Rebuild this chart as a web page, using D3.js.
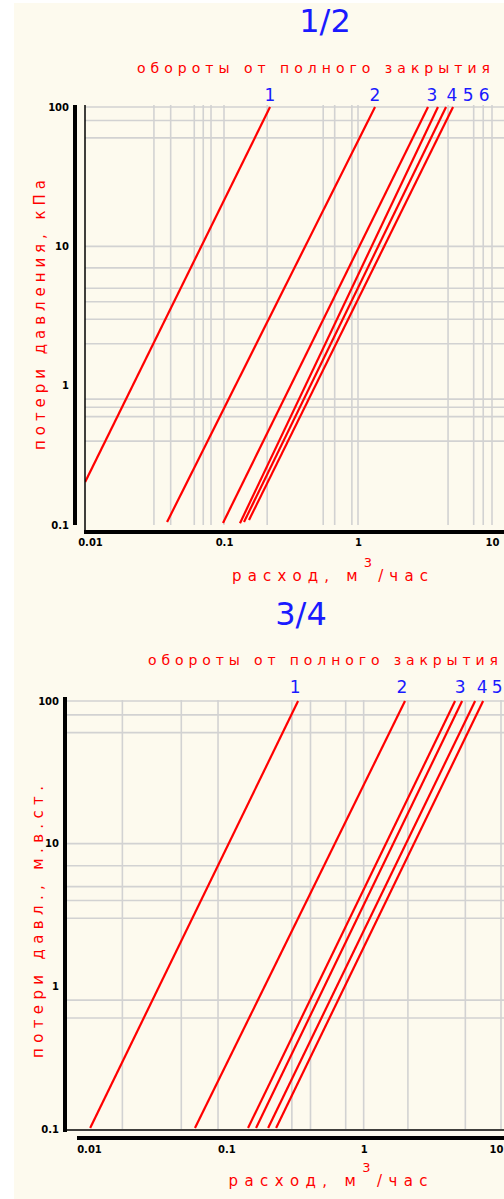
<!DOCTYPE html>
<html>
<head>
<meta charset="utf-8">
<script src="https://cdn.jsdelivr.net/npm/d3@7"></script>
<style>
body { margin: 0; background: #fff; overflow: hidden; }
svg { display: block; }
</style>
</head>
<body>
<script>
;(() => {
    // data
    var titles = ['1/2', '3/4'];
    var subtitle = 'обороты от полного закрытия';
    var xTitle = ['расход, м', '3', '/час'];
    var yTitles = ['потери давления, кПа', 'потери давл., м.в.ст.'];
    var curveNames1 = ['1', '2', '3', '4', '5', '6'],
        curveNames2 = ['1', '2', '3', '4', '5'];

    var xTicks = [0.01, 0.1, 1, 10],
        xTickText = ['0.01', '0.1', '1', '10'];
    var yTicks = [0.1, 1, 10, 100],
        yTickText = ['0.1', '1', '10', '100'];

    // grid lines (m3/h and kPa)
    var gridX1 = [0.03, 0.04, 0.06, 0.07, 0.08, 0.1, 0.21, 0.55, 0.67, 0.9, 1, 4.7, 7.3, 8.6, 10];
    var gridY1 = [100, 80, 60, 10, 7, 5, 4, 3, 2, 0.8, 0.7, 0.6, 0.4];
    var gridX2 = [0.0175, 0.047, 0.087, 0.3, 0.41, 0.74, 1, 2.1, 5.5, 10];
    var gridY2 = [100, 80, 60, 10, 7, 5, 4, 3, 0.8, 0.6];

    // each curve: [flow, loss] at its lower and upper end
    var curves1 = [
        [[0.0092, 0.2035], [0.2205, 100]],
        [[0.0376, 0.105], [1.34, 100]],
        [[0.0983, 0.1034], [3.33, 100]],
        [[0.1316, 0.103], [3.95, 100]],
        [[0.141, 0.105], [4.54, 100]],
        [[0.1537, 0.1086], [5.12, 100]]
    ];
    var curves2 = [
        [[0.0102, 0.1016], [0.333, 100]],
        [[0.0591, 0.1016], [2.0, 100]],
        [[0.1439, 0.1016], [4.63, 100]],
        [[0.1646, 0.1016], [5.21, 100]],
        [[0.2015, 0.1016], [6.48, 100]],
        [[0.2304, 0.1016], [7.41, 100]]
    ];

    var width = 504, height = 1199;

    var svg = d3.select('body')
        .append('svg')
        .attr('width', width)
        .attr('height', height);

    svg.append('rect')
        .attr('x', 14).attr('y', 3)
        .attr('width', width - 14).attr('height', height - 3)
        .attr('fill', '#fdfaee');

    var charts = [
        {
            id: 0, curves: curves1, names: curveNames1, gridX: gridX1, gridY: gridY1,
            x: [90, 492], y: [525, 107], plot: { l: 85, t: 105, b: 525 },
            title: { x: 325, y: 32 }, sub: { x: 137, y: 73, w: 353 },
            xt: { x: 330, y: 581, w: 196 }, yt: { x: 45, y: 315, w: 270 },
            labelDx: [0, 0, 4, 14, 22, 31], labelY: 101,
            thickY: { x: 75, y1: 105, y2: 525 }, thickX: { y: 532, x1: 84 },
            border: { x: 85, y1: 105, y2: 534 }, tickY: 546
        },
        {
            id: 1, curves: curves2, names: curveNames2, gridX: gridX2, gridY: gridY2,
            x: [89, 501], y: [1129, 701], plot: { l: 66, t: 700, b: 1129 },
            title: { x: 301, y: 625 }, sub: { x: 148, y: 665, w: 350 },
            xt: { x: 328, y: 1186, w: 199 }, yt: { x: 43, y: 922, w: 272 },
            labelDx: [-3, -3, 5, 20, 22], labelY: 693,
            thickY: { x: 65, y1: 697, y2: 1132 }, thickX: { y: 1138, x1: 77 },
            border: null, bottomLine: 1130, tickY: 1153
        }
    ];

    charts.forEach(c => {
        var x = d3.scaleLog().domain([0.01, 10]).range(c.x),
            y = d3.scaleLog().domain([0.1, 100]).range(c.y);

        var g = svg.append('g');

        g.append('clipPath')
            .attr('id', 'clip' + c.id)
            .append('rect')
            .attr('x', c.plot.l).attr('y', c.plot.t - 2)
            .attr('width', width - c.plot.l).attr('height', c.plot.b - c.plot.t + 4);

        // grid
        g.selectAll('line.gx')
            .data(c.gridX)
            .enter()
            .append('line')
            .attr('x1', d => x(d)).attr('x2', d => x(d))
            .attr('y1', c.plot.t).attr('y2', c.plot.b)
            .attr('stroke', '#d2d2d2')
            .attr('stroke-width', 1.6);
        g.selectAll('line.gy')
            .data(c.gridY)
            .enter()
            .append('line')
            .attr('x1', c.plot.l).attr('x2', width)
            .attr('y1', d => y(d)).attr('y2', d => y(d))
            .attr('stroke', '#d2d2d2')
            .attr('stroke-width', 1.6);

        // curves
        var line = d3.line()
            .x(d => x(d[0]))
            .y(d => y(d[1]));
        g.append('g')
            .attr('clip-path', 'url(#clip' + c.id + ')')
            .selectAll('path')
            .data(c.curves)
            .enter()
            .append('path')
            .attr('d', d => line(d))
            .attr('fill', 'none')
            .attr('stroke', '#ff0000')
            .attr('stroke-width', 2.2);

        // frame
        g.append('line')
            .attr('x1', c.thickY.x).attr('x2', c.thickY.x)
            .attr('y1', c.thickY.y1).attr('y2', c.thickY.y2)
            .attr('stroke', '#000').attr('stroke-width', 4);
        g.append('line')
            .attr('x1', c.thickX.x1).attr('x2', width)
            .attr('y1', c.thickX.y).attr('y2', c.thickX.y)
            .attr('stroke', '#000').attr('stroke-width', 4);
        if (c.border)
            g.append('line')
                .attr('x1', c.border.x).attr('x2', c.border.x)
                .attr('y1', c.border.y1).attr('y2', c.border.y2)
                .attr('stroke', '#000').attr('stroke-width', 1.5);
        if (c.bottomLine)
            g.append('line')
                .attr('x1', c.plot.l).attr('x2', width)
                .attr('y1', c.bottomLine).attr('y2', c.bottomLine)
                .attr('stroke', '#000').attr('stroke-width', 1.5);

        // tick labels
        var xAxis = d3.axisBottom(x)
            .tickValues(xTicks)
            .tickFormat((d, i) => xTickText[i])
            .tickSize(0)
            .tickPadding(0);
        g.append('g')
            .attr('transform', 'translate(0,' + c.tickY + ')')
            .call(xAxis)
            .call(a => a.select('.domain').remove())
            .selectAll('text')
            .attr('dy', 0)
            .attr('font-family', 'DejaVu Sans')
            .attr('font-weight', 'bold')
            .attr('font-size', 10)
            .attr('fill', '#000')
            .filter(d => x(d) > width - 10)
            .attr('text-anchor', 'end')
            .attr('dx', 2);

        var yAxis = d3.axisLeft(y)
            .tickValues(yTicks)
            .tickFormat((d, i) => yTickText[i])
            .tickSize(0)
            .tickPadding(0);
        g.append('g')
            .attr('transform', 'translate(' + (c.thickY.x - 6) + ',0)')
            .call(yAxis)
            .call(a => a.select('.domain').remove())
            .selectAll('text')
            .attr('font-family', 'DejaVu Sans')
            .attr('font-weight', 'bold')
            .attr('font-size', 10)
            .attr('fill', '#000');

        // curve numbers
        g.selectAll('text.num')
            .data(c.curves.slice(0, c.names.length))
            .enter()
            .append('text')
            .attr('x', (d, i) => x(d[1][0]) + c.labelDx[i])
            .attr('y', c.labelY)
            .attr('text-anchor', 'middle')
            .attr('font-family', 'DejaVu Sans')
            .attr('font-size', 17)
            .attr('fill', '#1a1aff')
            .text((d, i) => c.names[i]);

        // titles
        g.append('text')
            .attr('x', c.title.x).attr('y', c.title.y)
            .attr('text-anchor', 'middle')
            .attr('font-family', 'DejaVu Sans')
            .attr('font-size', 32)
            .attr('fill', '#1a1aff')
            .text(titles[c.id]);
        g.append('text')
            .attr('x', c.sub.x).attr('y', c.sub.y)
            .attr('textLength', c.sub.w)
            .attr('lengthAdjust', 'spacing')
            .attr('font-family', 'DejaVu Sans')
            .attr('font-size', 14)
            .attr('fill', '#ff0000')
            .text(subtitle);

        var xt = g.append('text')
            .attr('x', c.xt.x).attr('y', c.xt.y)
            .attr('text-anchor', 'middle')
            .attr('textLength', c.xt.w)
            .attr('lengthAdjust', 'spacing')
            .attr('font-family', 'DejaVu Sans')
            .attr('font-size', 15)
            .attr('fill', '#ff0000');
        xt.append('tspan').text(xTitle[0]);
        xt.append('tspan').attr('dy', -14).attr('font-size', 13).text(xTitle[1]);
        xt.append('tspan').attr('dy', 14).text(xTitle[2]);

        g.append('text')
            .attr('transform', 'translate(' + c.yt.x + ',' + c.yt.y + ') rotate(-90)')
            .attr('text-anchor', 'middle')
            .attr('textLength', c.yt.w)
            .attr('lengthAdjust', 'spacing')
            .attr('font-family', 'DejaVu Sans')
            .attr('font-size', 15)
            .attr('fill', '#ff0000')
            .text(yTitles[c.id]);
    });
})();
</script>
</body>
</html>
